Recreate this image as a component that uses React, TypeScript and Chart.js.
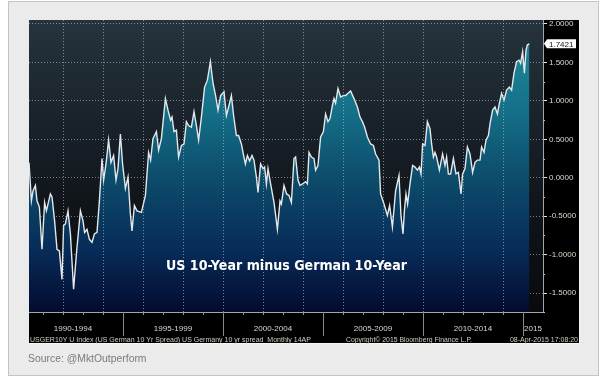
import React, { useEffect, useRef } from "react";
import { Chart, registerables } from "chart.js";

Chart.register(...registerables);

// Decimal-year dates of the turning points
const dates: number[] = [
  1990.30, 1990.42, 1990.50, 1990.62, 1990.70, 1990.82, 1990.95, 1991.08, 1991.17, 1991.37,
  1991.45, 1991.58, 1991.70, 1991.82, 1991.95, 1992.03, 1992.12, 1992.25, 1992.37, 1992.53,
  1992.67, 1992.87, 1993.00, 1993.08, 1993.20, 1993.32, 1993.45, 1993.57, 1993.70, 1993.82,
  1993.95, 1994.03, 1994.15, 1994.28, 1994.40, 1994.53, 1994.65, 1994.75, 1994.87, 1994.98,
  1995.12, 1995.25, 1995.37, 1995.45, 1995.57, 1995.70, 1995.92, 1996.12, 1996.28, 1996.38,
  1996.50, 1996.67, 1996.78, 1996.92, 1997.12, 1997.25, 1997.38, 1997.45, 1997.55, 1997.67,
  1997.78, 1997.92, 1998.05, 1998.17, 1998.28, 1998.42, 1998.55, 1998.67, 1998.78, 1998.92,
  1999.08, 1999.22, 1999.37, 1999.50, 1999.63, 1999.75, 1999.88, 2000.05, 2000.17, 2000.30,
  2000.42, 2000.53, 2000.67, 2000.78, 2000.92, 2001.03, 2001.12, 2001.22, 2001.33, 2001.45,
  2001.55, 2001.67, 2001.75, 2001.88, 2002.00, 2002.08, 2002.17, 2002.25, 2002.38, 2002.55,
  2002.72, 2002.85, 2002.92, 2003.05, 2003.18, 2003.30, 2003.42, 2003.55, 2003.63, 2003.75,
  2003.85, 2003.97, 2004.13, 2004.22, 2004.30, 2004.42, 2004.55, 2004.63, 2004.75, 2004.88,
  2005.02, 2005.13, 2005.25, 2005.35, 2005.47, 2005.55, 2005.63, 2005.75, 2005.88, 2006.02,
  2006.13, 2006.25, 2006.38, 2006.55, 2006.72, 2006.85, 2006.97, 2007.08, 2007.22, 2007.38,
  2007.52, 2007.63, 2007.80, 2007.88, 2008.05, 2008.22, 2008.33, 2008.47, 2008.63, 2008.80,
  2008.90, 2009.00, 2009.07, 2009.15, 2009.23, 2009.35, 2009.48, 2009.60, 2009.72, 2009.82,
  2009.90, 2009.98, 2010.10, 2010.22, 2010.35, 2010.43, 2010.52, 2010.60, 2010.68, 2010.82,
  2010.88, 2010.98, 2011.10, 2011.18, 2011.27, 2011.38, 2011.52, 2011.65, 2011.77, 2011.90,
  2011.98, 2012.10, 2012.22, 2012.35, 2012.48, 2012.60, 2012.72, 2012.85, 2012.93, 2013.05,
  2013.15, 2013.27, 2013.35, 2013.48, 2013.60, 2013.72, 2013.82, 2013.93, 2014.05, 2014.18,
  2014.32, 2014.43, 2014.55, 2014.68, 2014.80, 2014.88, 2014.98, 2015.07, 2015.15, 2015.22,
  2015.32,
];

// US 10Y minus German 10Y spread (percentage points)
const spread: number[] = [
  0.20, -0.30, -0.17, -0.10, -0.30, -0.38, -0.93, -0.32, -0.43, -0.21,
  -0.25, -0.56, -0.93, -0.95, -1.32, -0.62, -0.60, -0.43, -0.73, -1.45,
  -0.99, -0.43, -0.56, -0.71, -0.67, -0.80, -0.84, -0.73, -0.71, -0.30,
  0.25, -0.03, 0.18, 0.49, 0.20, 0.29, -0.03, 0.12, 0.57, 0.18,
  -0.14, 0.01, -0.47, -0.69, -0.36, -0.43, -0.45, -0.23, 0.33, 0.23,
  0.51, 0.60, 0.36, 0.51, 1.03, 0.88, 0.75, 0.79, 0.60, 0.62,
  0.27, 0.42, 0.44, 0.73, 0.68, 0.66, 0.86, 0.68, 0.49, 0.79,
  1.18, 1.27, 1.51, 1.23, 1.07, 0.88, 1.07, 1.12, 0.81, 0.94,
  1.07, 0.81, 0.55, 0.55, 0.44, 0.29, 0.18, 0.29, 0.22, 0.29,
  0.23, 0.01, -0.19, 0.18, 0.12, 0.14, -0.08, 0.12, -0.08, -0.32,
  -0.67, -0.30, -0.34, -0.10, -0.21, -0.23, -0.32, 0.25, 0.27, -0.03,
  -0.10, -0.08, -0.05, -0.08, 0.33, 0.27, 0.25, 0.10, 0.16, 0.53,
  0.60, 0.83, 0.73, 0.77, 0.94, 1.03, 0.97, 1.16, 1.05, 1.07,
  1.07, 1.10, 1.13, 1.03, 0.92, 0.79, 0.73, 0.66, 0.53, 0.44,
  0.42, 0.31, 0.23, -0.21, -0.34, -0.49, -0.36, -0.64, -0.17, 0.03,
  -0.50, -0.73, -0.43, -0.21, -0.34, -0.08, 0.16, 0.14, 0.10, 0.14,
  0.05, 0.44, 0.42, 0.73, 0.64, 0.44, 0.27, 0.33, 0.27, 0.10,
  0.18, 0.31, 0.16, 0.27, 0.05, 0.05, 0.25, 0.05, 0.07, -0.21,
  0.05, 0.12, 0.40, 0.31, 0.07, 0.20, 0.23, 0.23, 0.40, 0.33,
  0.49, 0.55, 0.70, 0.88, 0.92, 0.83, 0.97, 1.10, 1.01, 1.14,
  1.18, 1.14, 1.36, 1.51, 1.53, 1.49, 1.64, 1.36, 1.66, 1.73,
  1.7421,
];

const yTickValues: number[] = [-1.5, -1.0, -0.5, 0, 0.5, 1.0, 1.5, 2.0];
const yMinorTickValues: number[] = [-1.75, -1.25, -0.75, -0.25, 0.25, 0.75, 1.25, 1.75];
const xLabelCenters: number[] = [1992.5, 1997.5, 2002.5, 2007.5, 2012.5, 2015.5];
const xLabels: string[] = ["1990-1994", "1995-1999", "2000-2004", "2005-2009", "2010-2014", "2015"];
const gridYears: number[] = [1992, 1994, 1996, 1998, 2000, 2002, 2004, 2006, 2008, 2010, 2012, 2014];
const majorYears: number[] = [1995, 2000, 2005, 2010, 2015];
const minorYears: number[] = [
  1991, 1992, 1993, 1994, 1996, 1997, 1998, 1999, 2001, 2002, 2003, 2004,
  2006, 2007, 2008, 2009, 2011, 2012, 2013, 2014,
];

const titleText = "US 10-Year minus German 10-Year";
const footLeft = "USGER10Y U Index (US German 10 Yr Spread) US Germany 10 yr spread  Monthly 14AP";
const footMid = "Copyright\u00A9 2015 Bloomberg Finance L.P.";
const footRight = "08-Apr-2015 17:08:20";
const sourceText = "Source: @MktOutperform";

const SANS = '"Liberation Sans", Arial, sans-serif';
const GRID = "rgba(190,200,210,0.6)";

const decorPlugin = {
  id: "decor",
  beforeDraw(chart: any) {
    const { ctx, chartArea: a, scales } = chart;
    const panelRight = a.right + scales.y.width;
    const panelBottom = a.bottom + scales.x.height;
    ctx.save();
    ctx.fillStyle = "#ffffff";
    ctx.fillRect(0, 0, chart.width, chart.height);
    ctx.fillStyle = "#ebebeb";
    ctx.fillRect(8, 1, 591, 375);
    ctx.strokeStyle = "#c4c4c4";
    ctx.lineWidth = 1;
    ctx.strokeRect(8.5, 1.5, 590, 374);
    // dark panel
    ctx.fillStyle = "#000000";
    ctx.fillRect(a.left, a.top, panelRight - a.left, panelBottom - a.top);
    ctx.strokeStyle = "#f6f6f6";
    ctx.beginPath();
    ctx.moveTo(panelRight + 0.5, a.top);
    ctx.lineTo(panelRight + 0.5, panelBottom + 0.5);
    ctx.lineTo(a.left, panelBottom + 0.5);
    ctx.stroke();
    // plot background
    const g = ctx.createLinearGradient(0, a.top, 0, a.bottom);
    g.addColorStop(0, "#26343d");
    g.addColorStop(0.35, "#19222a");
    g.addColorStop(0.65, "#101419");
    g.addColorStop(1, "#090a0c");
    ctx.fillStyle = g;
    ctx.fillRect(a.left, a.top, a.right - a.left, a.bottom - a.top);
    ctx.restore();
  },
  afterDraw(chart: any) {
    const { ctx, chartArea: a, scales } = chart;
    const xs = scales.x;
    const ys = scales.y;
    ctx.save();
    // vertical dotted grid lines
    ctx.strokeStyle = GRID;
    ctx.lineWidth = 1;
    ctx.setLineDash([1, 2]);
    gridYears.forEach((yr) => {
      const x = Math.round(xs.getPixelForValue(yr)) + 0.5;
      ctx.beginPath();
      ctx.moveTo(x, a.top);
      ctx.lineTo(x, a.bottom);
      ctx.stroke();
    });
    ctx.setLineDash([]);
    // x-axis tick marks
    ctx.strokeStyle = "#9a9a9a";
    minorYears.forEach((yr) => {
      const x = Math.round(xs.getPixelForValue(yr)) + 0.5;
      ctx.beginPath();
      ctx.moveTo(x, a.bottom);
      ctx.lineTo(x, a.bottom + 3);
      ctx.stroke();
    });
    ctx.strokeStyle = "#8a8a8a";
    majorYears.forEach((yr) => {
      const x = Math.round(xs.getPixelForValue(yr)) + 0.5;
      ctx.beginPath();
      ctx.moveTo(x, a.bottom);
      ctx.lineTo(x, a.bottom + 24);
      ctx.stroke();
    });
    // y minor ticks
    ctx.strokeStyle = "#bbbbbb";
    yMinorTickValues.forEach((v) => {
      const y = Math.round(ys.getPixelForValue(v)) + 0.5;
      ctx.beginPath();
      ctx.moveTo(a.right, y);
      ctx.lineTo(a.right + 2, y);
      ctx.stroke();
    });
    // last value callout
    const last = spread[spread.length - 1];
    const cy = ys.getPixelForValue(last);
    const x0 = a.right + 1;
    ctx.fillStyle = "#ffffff";
    ctx.beginPath();
    ctx.moveTo(x0, cy);
    ctx.lineTo(x0 + 3, cy - 4.5);
    ctx.lineTo(x0 + 32, cy - 4.5);
    ctx.lineTo(x0 + 32, cy + 4.5);
    ctx.lineTo(x0 + 3, cy + 4.5);
    ctx.closePath();
    ctx.fill();
    ctx.fillStyle = "#101820";
    ctx.font = `8px ${SANS}`;
    ctx.textBaseline = "middle";
    ctx.textAlign = "left";
    ctx.fillText(last.toFixed(4), x0 + 5, cy + 0.5);
    // title inside plot
    ctx.fillStyle = "#ffffff";
    ctx.font = `bold 14px "DejaVu Sans", Verdana, sans-serif`;
    ctx.textBaseline = "alphabetic";
    ctx.fillText(titleText, a.left + 137, 269.5, 241);
    // footer line
    ctx.fillStyle = "#d2ccc0";
    ctx.font = `7px ${SANS}`;
    ctx.fillText(footLeft, a.left + 1, 342, 284);
    ctx.fillText(footMid, 346, 342, 126);
    ctx.textAlign = "right";
    ctx.fillText(footRight, a.right + ys.width - 1, 342, 71);
    // source
    ctx.textAlign = "left";
    ctx.fillStyle = "#7a7a7a";
    ctx.font = `10.4px ${SANS}`;
    ctx.fillText(sourceText, 28, 362);
    ctx.restore();
  },
};

export default function App() {
  const ref = useRef<HTMLCanvasElement | null>(null);
  useEffect(() => {
    const canvas = ref.current;
    if (!canvas) return;
    const chart = new Chart(canvas, {
      type: "line",
      data: {
        datasets: [
          {
            data: dates.map((d, i) => ({ x: d, y: spread[i] })),
            borderColor: "#e2e8ec",
            borderWidth: 1.4,
            pointRadius: 0,
            tension: 0,
            fill: "start",
            backgroundColor: (c: any) => {
              const a = c.chart.chartArea;
              if (!a) return "#0c4a6a";
              const g = c.chart.ctx.createLinearGradient(0, a.top, 0, a.bottom);
              g.addColorStop(0, "#208e9d");
              g.addColorStop(0.3, "#157189");
              g.addColorStop(0.55, "#0c4b6a");
              g.addColorStop(0.8, "#072a57");
              g.addColorStop(1, "#040b2e");
              return g;
            },
          },
        ],
      },
      options: {
        responsive: false,
        animation: false,
        devicePixelRatio: 1,
        layout: { padding: { left: 29, top: 20, right: 29, bottom: 41 } },
        plugins: { legend: { display: false }, tooltip: { enabled: false } },
        scales: {
          x: {
            type: "linear",
            position: "bottom",
            min: 1990.3,
            max: 2016.0,
            z: 1,
            afterFit: (s: any) => {
              s.height = 31;
            },
            afterBuildTicks: (s: any) => {
              s.ticks = xLabelCenters.map((v) => ({ value: v }));
            },
            grid: { display: false, drawTicks: false },
            border: { display: true, color: "#a0a6ac", width: 1 },
            ticks: {
              autoSkip: false,
              maxRotation: 0,
              minRotation: 0,
              padding: 12,
              color: "#d8d8d8",
              font: { family: SANS, size: 8 },
              callback: (_v: any, i: number) => xLabels[i],
            },
          },
          y: {
            position: "right",
            min: -1.745,
            max: 2.052,
            z: 1,
            afterFit: (s: any) => {
              s.width = 36;
            },
            afterBuildTicks: (s: any) => {
              s.ticks = yTickValues.map((v) => ({ value: v }));
            },
            grid: {
              display: true,
              color: GRID,
              lineWidth: 1,
              drawTicks: true,
              tickLength: 4,
              tickColor: "#e6e6e6",
              tickWidth: 1,
              tickBorderDash: [],
            },
            border: { display: true, color: "#a0a6ac", width: 1, dash: [1, 2] },
            ticks: {
              padding: 2,
              color: "#ddd8cc",
              font: { family: SANS, size: 8 },
              callback: (v: any) => Number(v).toFixed(4),
            },
          },
        },
      },
      plugins: [decorPlugin],
    } as any);
    return () => chart.destroy();
  }, []);
  return (
    <div style={{ position: "absolute", left: 0, top: 0, width: 608, height: 384 }}>
      <canvas ref={ref} width={608} height={384} style={{ display: "block", width: 608, height: 384 }} />
    </div>
  );
}
